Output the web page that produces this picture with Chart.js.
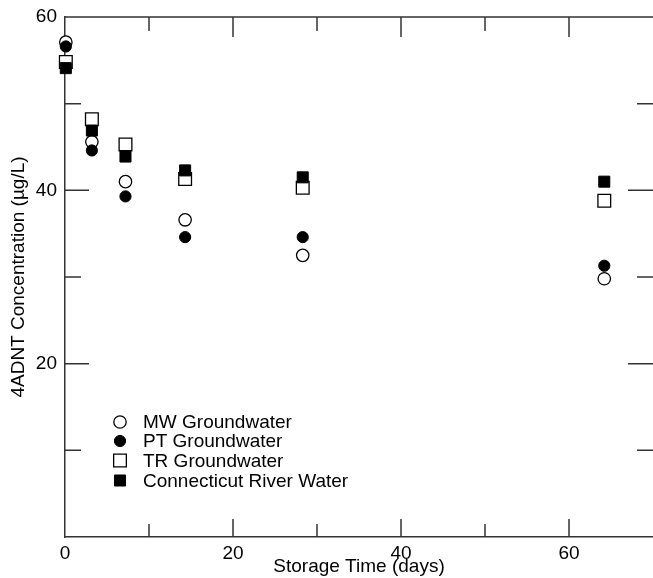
<!DOCTYPE html>
<html>
<head>
<meta charset="utf-8">
<script src="https://cdn.jsdelivr.net/npm/chart.js@4/dist/chart.umd.min.js"></script>
<style>
html,body{margin:0;padding:0;background:#fff;}
#wrap{width:653px;height:578px;position:relative;}
</style>
</head>
<body>
<div id="wrap"><canvas id="c" width="653" height="578"></canvas></div>
<script>
// ---- data ----
const days = [0.1, 3.2, 7.2, 14.3, 28.3, 64.2];
const mwGroundwater = [57.1, 45.6, 41.0, 36.6, 32.5, 29.8];
const ptGroundwater = [56.6, 44.6, 39.3, 34.6, 34.6, 31.3];
const trGroundwater = [54.8, 48.2, 45.3, 41.3, 40.3, 38.8];
const connecticutRiver = [54.1, 46.9, 43.9, 42.3, 41.5, 41.0];
const seriesLabels = ['MW Groundwater', 'PT Groundwater', 'TR Groundwater', 'Connecticut River Water'];
const xTickLabels = [0, 20, 40, 60];
const yTickLabels = [20, 40, 60];
const xMinorTicks = [10, 30, 50];
const xMajorTicks = [20, 40, 60];
const yMinorTicks = [10, 30, 50];
const yMajorTicks = [20, 40];

const FONT = 'Liberation Sans, Arial, Helvetica, sans-serif';
const AXIS = '#333';

function pts(xs, ys){ return xs.map((x,i)=>({x:x, y:ys[i]})); }

const styles = {
  'MW Groundwater': {pointStyle:'circle', radius:6.2, backgroundColor:'#fff', borderColor:'#000', borderWidth:1.3},
  'PT Groundwater': {pointStyle:'circle', radius:5.6, backgroundColor:'#000', borderColor:'#000', borderWidth:1},
  'TR Groundwater': {pointStyle:'rect', radius:9.0, backgroundColor:'#fff', borderColor:'#000', borderWidth:1.3},
  'Connecticut River Water': {pointStyle:'rect', radius:7.8, backgroundColor:'#000', borderColor:'#000', borderWidth:1}
};
const seriesData = {
  'MW Groundwater': mwGroundwater,
  'PT Groundwater': ptGroundwater,
  'TR Groundwater': trGroundwater,
  'Connecticut River Water': connecticutRiver
};
// filled markers drawn on top (dataset 0 drawn last)
const drawOrder = ['PT Groundwater', 'Connecticut River Water', 'MW Groundwater', 'TR Groundwater'];

const datasets = drawOrder.map(name => {
  const s = styles[name];
  return {
    label: name,
    data: pts(days, seriesData[name]),
    pointStyle: s.pointStyle,
    pointRadius: s.radius,
    pointHoverRadius: s.radius,
    pointBackgroundColor: s.backgroundColor,
    pointBorderColor: s.borderColor,
    pointBorderWidth: s.borderWidth,
    showLine: false,
    clip: false
  };
});

const framePlugin = {
  id: 'frame',
  afterDraw(chart) {
    const ctx = chart.ctx;
    const xs = chart.scales.x, ys = chart.scales.y;
    const a = chart.chartArea;
    ctx.save();
    ctx.strokeStyle = AXIS;
    ctx.lineWidth = 1.5;
    ctx.beginPath();
    ctx.moveTo(a.left, a.top); ctx.lineTo(a.right, a.top);
    const bt = (v, len) => { const p = xs.getPixelForValue(v); ctx.moveTo(p, a.bottom); ctx.lineTo(p, a.bottom - len); };
    const tt = (v, len) => { const p = xs.getPixelForValue(v); ctx.moveTo(p, a.top); ctx.lineTo(p, a.top + len); };
    const lt = (v, len) => { const p = ys.getPixelForValue(v); ctx.moveTo(a.left, p); ctx.lineTo(a.left + len, p); };
    const rt = (v, len) => { const p = ys.getPixelForValue(v); ctx.moveTo(a.right, p); ctx.lineTo(a.right - len, p); };
    xMajorTicks.forEach(v => { bt(v, 18); tt(v, 20); });
    xMinorTicks.forEach(v => { bt(v, 13); tt(v, 14); });
    yMajorTicks.forEach(v => { lt(v, 24); rt(v, 25); });
    yMinorTicks.forEach(v => { lt(v, 16); rt(v, 16); });
    ctx.stroke();

    // legend inside plot
    const lx = 120, tx = 143;
    const rows = [422, 441, 460.5, 480.5];
    ctx.font = '19px ' + FONT;
    ctx.textAlign = 'left';
    ctx.textBaseline = 'middle';
    seriesLabels.forEach((name, i) => {
      const s = styles[name];
      ctx.save();
      ctx.fillStyle = s.backgroundColor;
      ctx.strokeStyle = s.borderColor;
      ctx.lineWidth = s.borderWidth;
      Chart.helpers.drawPoint(ctx, {pointStyle: s.pointStyle, radius: s.radius, borderWidth: s.borderWidth, rotation: 0}, lx, rows[i]);
      ctx.restore();
      ctx.fillStyle = '#000';
      ctx.fillText(name, tx, rows[i] + 1);
    });
    ctx.restore();
  }
};

new Chart(document.getElementById('c'), {
  type: 'scatter',
  data: { datasets },
  options: {
    responsive: false,
    animation: false,
    events: [],
    layout: { autoPadding: false, padding: { top: 17, right: 0, left: 0, bottom: 0 } },
    plugins: { legend: { display: false }, tooltip: { enabled: false } },
    scales: {
      x: {
        type: 'linear', min: 0, max: 70,
        afterBuildTicks: s => { s.ticks = xTickLabels.map(v => ({value: v})); },
        afterFit: s => { s.height = 41; s.paddingLeft = 0; s.paddingRight = 0; },
        grid: { display: false, drawTicks: false },
        border: { display: true, color: AXIS, width: 1.5 },
        ticks: { color: '#000', font: { family: FONT, size: 19 }, padding: 5, maxRotation: 0, autoSkip: false },
        title: { display: true, text: 'Storage Time (days)', color: '#000', font: { family: FONT, size: 19 }, padding: { top: 0, bottom: 0 } }
      },
      y: {
        type: 'linear', min: 0, max: 60,
        afterBuildTicks: s => { s.ticks = yTickLabels.map(v => ({value: v})); },
        afterFit: s => { s.width = 65; s.paddingTop = 0; s.paddingBottom = 0; },
        grid: { display: false, drawTicks: false },
        border: { display: true, color: AXIS, width: 1.5 },
        ticks: { color: '#000', font: { family: FONT, size: 19 }, padding: 8, autoSkip: false },
        title: { display: true, text: '4ADNT Concentration (µg/L)', color: '#000', font: { family: FONT, size: 19 }, padding: { top: 7, bottom: 0 } }
      }
    }
  },
  plugins: [framePlugin]
});
</script>
</body>
</html>
